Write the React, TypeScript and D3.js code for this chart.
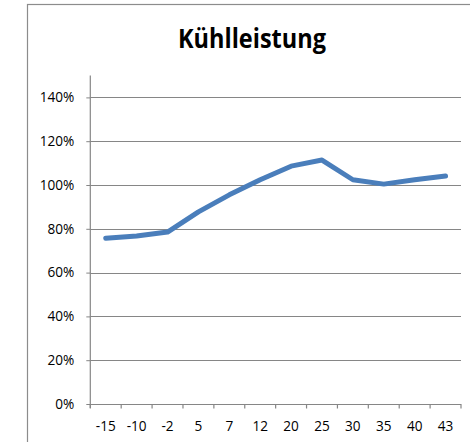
import { useEffect, useRef } from "react";
import * as d3 from "d3";

// chart data
const categories = ["-15", "-10", "-2", "5", "7", "12", "20", "25", "30", "35", "40", "43"];
const coolingValues = [0.757, 0.767, 0.785, 0.877, 0.955, 1.024, 1.086, 1.114, 1.024, 1.004, 1.024, 1.041];
const yTickValues = [0, 0.2, 0.4, 0.6, 0.8, 1.0, 1.2, 1.4];
const chartTitle = "Kühlleistung";

const width = 470;
const height = 442;
const plot = { left: 90.3, right: 461, top: 75.5, bottom: 404 };

export default function App() {
  const svgRef = useRef<SVGSVGElement | null>(null);

  useEffect(() => {
    const svg = d3.select(svgRef.current);
    svg.selectAll("*").remove();

    const xScale = d3.scaleBand<string>()
      .domain(categories)
      .range([plot.left, plot.right])
      .padding(0);

    const yScale = d3.scaleLinear()
      .domain([0, 1.5])
      .range([plot.bottom, plot.top]);

    // outer chart frame (cut off at right and bottom like the screenshot)
    svg.append("rect")
      .attr("x", 27.5)
      .attr("y", 4.5)
      .attr("width", 500)
      .attr("height", 500)
      .attr("fill", "white")
      .attr("stroke", "#8c8c8c")
      .attr("stroke-width", 1.2);

    svg.append("text")
      .attr("x", 252)
      .attr("y", 48.3)
      .attr("text-anchor", "middle")
      .attr("font-family", "'Open Sans', sans-serif")
      .attr("font-weight", "bold")
      .attr("font-size", 26.5)
      .attr("textLength", 148)
      .attr("lengthAdjust", "spacingAndGlyphs")
      .attr("fill", "#000")
      .text(chartTitle);

    // gridlines
    svg.append("g")
      .selectAll("line")
      .data(yTickValues)
      .join("line")
      .attr("x1", plot.left)
      .attr("x2", plot.right)
      .attr("y1", d => Math.round(yScale(d)) + 0.5)
      .attr("y2", d => Math.round(yScale(d)) + 0.5)
      .attr("stroke", "#868686")
      .attr("stroke-width", 1);

    // y axis
    const yAxis = svg.append("g")
      .attr("transform", `translate(${plot.left},0)`)
      .call(d3.axisLeft(yScale)
        .tickValues(yTickValues)
        .tickFormat(d3.format(".0%"))
        .tickSize(4)
        .tickPadding(12));
    yAxis.select(".domain").remove();
    yAxis.selectAll(".tick line").attr("stroke", "#868686");
    yAxis.selectAll(".tick text")
      .attr("font-family", "'Open Sans', sans-serif")
      .attr("font-size", 13.6)
      .attr("fill", "#000");
    svg.append("line")
      .attr("x1", plot.left)
      .attr("x2", plot.left)
      .attr("y1", plot.top)
      .attr("y2", plot.bottom + 4)
      .attr("stroke", "#868686")
      .attr("stroke-width", 1.2);

    // x axis: ticks on band edges, labels centred in bands
    const xEdges = categories.map(c => xScale(c) as number).concat([plot.right]);
    const xAxis = svg.append("g");
    xAxis.selectAll("line.tick")
      .data(xEdges)
      .join("line")
      .attr("class", "tick")
      .attr("x1", d => d)
      .attr("x2", d => d)
      .attr("y1", plot.bottom)
      .attr("y2", plot.bottom + 4.5)
      .attr("stroke", "#868686")
      .attr("stroke-width", 1.2);
    xAxis.selectAll("text")
      .data(categories)
      .join("text")
      .attr("x", d => (xScale(d) as number) + xScale.bandwidth() / 2)
      .attr("y", 430.5)
      .attr("text-anchor", "middle")
      .attr("font-family", "'Open Sans', sans-serif")
      .attr("font-size", 13.6)
      .attr("fill", "#000")
      .text(d => d);

    // the series line
    const line = d3.line<number>()
      .x((_, i) => (xScale(categories[i]) as number) + xScale.bandwidth() / 2)
      .y(d => yScale(d));

    svg.append("path")
      .datum(coolingValues)
      .attr("d", line)
      .attr("fill", "none")
      .attr("stroke", "#4a7ebb")
      .attr("stroke-width", 5)
      .attr("stroke-linejoin", "round")
      .attr("stroke-linecap", "round");
  }, []);

  return (
    <div>
      <svg
        ref={svgRef}
        width={width}
        height={height}
        style={{ position: "absolute", left: 0, top: 0, background: "white" }}
      />
    </div>
  );
}
